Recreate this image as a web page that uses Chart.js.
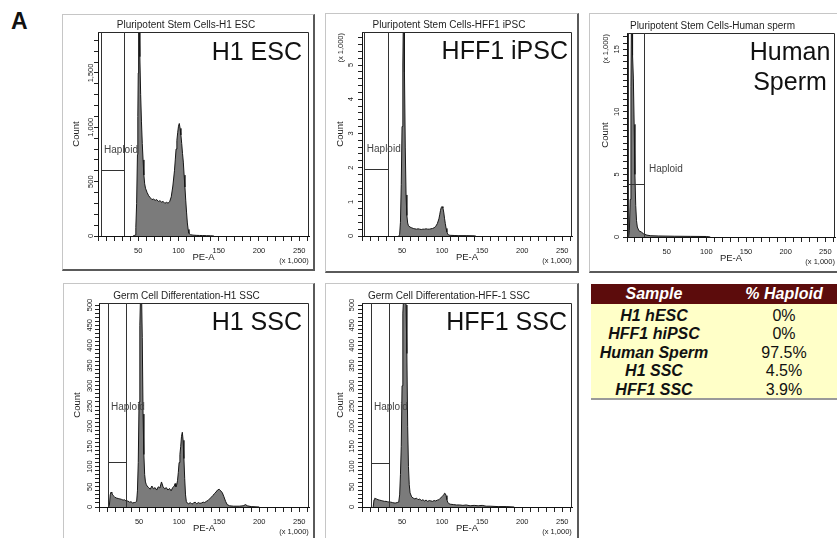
<!DOCTYPE html>
<html>
<head>
<meta charset="utf-8">
<script src="https://cdn.jsdelivr.net/npm/chart.js@4.4.1/dist/chart.umd.min.js"></script>
<style>
html, body { margin:0; padding:0; background:#fff; }
body { width:837px; height:538px; overflow:hidden; position:relative; font-family:'Liberation Sans', Arial, Helvetica, sans-serif; }
.frame { position:absolute; box-sizing:border-box; border-top:1px solid #c6c6c6; border-left:1px solid #c6c6c6; border-right:2px solid #5a5a5a; border-bottom:2px solid #5a5a5a; background:#fff; }
.frame canvas { position:absolute; left:0; top:0; }
#letter { position:absolute; left:11px; top:10px; font-weight:bold; font-size:23px; line-height:23px; color:#111; }
#tbl { position:absolute; left:591px; top:284px; width:262px; font-size:16px; }
#tbl .th { height:20px; background:#5c0c0c; color:#fff; font-weight:bold; font-style:italic; display:flex; align-items:center; }
#tbl .tb { background:#ffffc8; padding-top:2.5px; height:91.5px; border-bottom:2px solid #9a9a9a; }
#tbl .tr { height:18.5px; line-height:18.5px; display:flex; color:#111; }
#tbl .c1 { width:126px; text-align:center; white-space:nowrap; }
#tbl .c2 { width:134px; text-align:center; white-space:nowrap; }
#tbl .tr .c1 { font-weight:bold; font-style:italic; }
</style>
</head>
<body>
<div id="letter">A</div>
<div id="tbl"></div>
<script>
const FONT = "'Liberation Sans', Arial, Helvetica, sans-serif";

// ---------- DATA (x in PE-A x1,000; counts as on each axis) ----------
const xTickLabelEvery = 50;

// H1 ESC (counts)
const escX = [43.5,45,46,47,48,49,49.5,50,50.5,51.3,52,53,54,55,56,57,58,59,61,63,65,67,69,71,73,75,77,79,81,83,85,87,89,91,93,95,96,97,98,99,100,101,102,103,104,105,106,107,108,109,110,111,112,113,115,118,122,126,130,135,140,144];
const escY = [0,3,10,80,300,750,1100,1500,1900,1900,1650,1300,1050,850,700,560,480,440,400,370,352,335,340,328,335,318,325,312,318,300,310,302,315,360,460,600,700,800,880,950,1010,1035,990,930,850,760,680,560,450,330,220,120,60,25,12,8,6,5,4,3,2,0];
const escGate = [3.7, 32.7, 607];
const escGateLabel = [7.5, 790];

// HFF1 iPSC (counts x1,000)
const ipsX = [46,47,48,49,50,51,51.5,52.5,53,54,55,56,57,58,60,62,64,66,68,70,72,74,76,78,80,82,84,86,88,90,92,94,96,97,98,99,100,101,102,103,104,105,106,107,108,110,115,120,130,140,142];
const ipsY = [0,0.05,0.4,1.5,3.2,5.0,6.1,6.1,4.8,2.6,1.2,0.6,0.38,0.3,0.26,0.24,0.22,0.21,0.2,0.21,0.2,0.19,0.2,0.2,0.21,0.2,0.2,0.21,0.22,0.24,0.28,0.36,0.5,0.62,0.75,0.84,0.86,0.82,0.7,0.52,0.36,0.22,0.12,0.06,0.03,0.02,0.015,0.01,0.01,0.005,0];
const ipsGate = [2.9, 32, 1.95];
const ipsGateLabel = [6, 2.53];

// Human sperm (counts x1,000)
const spX = [2,3,4,5,5.5,6.5,7,8,9,10,11,12,13,15,18,21,25,30,40,60,80,100,105];
const spY = [0,0.5,3,12,16.5,16.5,14.5,12.7,9,5,2.5,1.3,0.8,0.5,0.4,0.25,0.15,0.1,0.08,0.06,0.05,0.04,0];
const spGate = [1.6, 21.8, 4.2];
const spGateLabel = [27.7, 5.4];

// H1 SSC (counts)
const h1sX = [12,13,14,15,16,17,18,19,20,22,24,26,28,30,32,34,36,38,40,42,44,46,47,48,49,50,51,52,53,54,55,56,57,58,59,60,62,64,66,68,70,72,74,76,78,80,82,84,86,88,90,92,94,95,96,97,98,99,100,101,102,103,104,105,106,107,108,109,110,112,114,116,118,120,122,124,126,128,130,132,134,136,138,140,142,144,146,148,150,152,154,156,158,160,163,168,175,180,183,185,190,200];
const h1sY = [0,5,30,37,35,30,28,26,24,22,21,20,19,17,18,14,15,12,13,10,11,12,14,40,110,260,450,540,540,420,230,130,80,62,56,52,48,44,52,45,48,42,50,47,62,50,45,48,42,46,40,48,52,58,50,55,65,85,110,130,150,175,185,165,120,70,30,14,10,8,11,7,10,12,8,11,9,10,12,11,14,16,20,24,28,33,37,42,44,40,35,25,14,6,3,2,2,3,6,3,1,0];
const h1sGate = [11.6, 33.3, 111];
const h1sGateLabel = [15, 248];

// HFF1 SSC (counts)
const hffX = [14,15,16,17,18,20,22,24,26,28,30,32,34,36,38,40,42,44,45,46,47,48,49,50,51,52,53,54,55,56,57,58,59,60,62,64,66,68,70,72,74,76,78,80,82,84,86,88,90,92,94,96,98,100,102,103,104,105,106,107,108,110,114,118,122,126,130,135,140,145,150,155,160,170,180,190];
const hffY = [0,18,22,21,20,18,17,16,15,14,14,13,12,12,11,10,10,11,12,15,30,80,150,300,480,520,540,530,500,380,200,100,55,35,25,22,20,22,18,20,16,18,15,17,14,16,15,14,16,15,17,18,22,26,30,34,33,28,18,12,9,7,6,5,5,4,5,3,4,3,4,2,2,1,1,0];
const hffGate = [11.2, 33.7, 108.5];
const hffGateLabel = [15, 247];

// Table
const tableHeader = ['Sample', '% Haploid'];
const tableSamples = ['H1 hESC', 'HFF1 hiPSC', 'Human Sperm', 'H1 SSC', 'HFF1 SSC'];
const tableHaploid = ['0%', '0%', '97.5%', '4.5%', '3.9%'];

// ---------- LAYOUT ----------
const panels = [
  { id:'p1', cl:63, ct:15, cw:250, ch:254, L:98, T:32, R:309, B:236,
    title:'Pluripotent Stem Cells-H1 ESC', big:['H1 ESC'], bigAlign:'right', bigInset:7, bigBase:28,
    xs:escX, ys:escY, yMax:1877, yStep:100, yLabelEvery:500, yUnit:false, gate:escGate, gateLabel:escGateLabel, labelGap:7 },
  { id:'p2', cl:326, ct:14, cw:251, ch:257, L:362, T:32, R:572, B:236,
    title:'Pluripotent Stem Cells-HFF1 iPSC', big:['HFF1 iPSC'], bigAlign:'right', bigInset:4, bigBase:27,
    xs:ipsX, ys:ipsY, yMax:5.965, yStep:0.2, yLabelEvery:1, yUnit:true, gate:ipsGate, gateLabel:ipsGateLabel, labelGap:11 },
  { id:'p3', cl:590, ct:14, cw:255, ch:257, L:627, T:33, R:835, B:237,
    title:'Pluripotent Stem Cells-Human sperm', big:['Human','Sperm'], bigAlign:'center', bigInset:45, bigBase:27,
    xs:spX, ys:spY, yMax:16.3, yStep:0.5, yLabelEvery:5, yUnit:true, gate:spGate, gateLabel:spGateLabel, labelGap:10 },
  { id:'p4', cl:64, ct:284, cw:249, ch:259, L:99, T:303, R:309, B:507,
    title:'Germ Cell Differentation-H1 SSC', big:['H1 SSC'], bigAlign:'right', bigInset:7, bigBase:27,
    xs:h1sX, ys:h1sY, yMax:505, yStep:10, yLabelEvery:50, yUnit:false, gate:h1sGate, gateLabel:h1sGateLabel, labelGap:9 },
  { id:'p5', cl:326, ct:284, cw:251, ch:259, L:362, T:303, R:572, B:507,
    title:'Germ Cell Differentation-HFF-1 SSC', big:['HFF1 SSC'], bigAlign:'right', bigInset:5, bigBase:27,
    xs:hffX, ys:hffY, yMax:505, yStep:10, yLabelEvery:50, yUnit:false, gate:hffGate, gateLabel:hffGateLabel, labelGap:10 }
];

Chart.defaults.font.family = FONT;
const TICK_SIZE = 7.5;
const measureCtx = document.createElement('canvas').getContext('2d');

function isMultiple(v, step) {
  const r = v / step;
  return Math.abs(r - Math.round(r)) < 1e-6;
}

function decorPlugin(p) {
  return {
    id: 'decor_' + p.id,
    afterDraw(chart) {
      const { ctx, chartArea: a } = chart;
      const xs = chart.scales.x, ys = chart.scales.y;
      const px = v => Math.round(xs.getPixelForValue(v)) + 0.5;
      const py = v => Math.round(ys.getPixelForValue(v)) + 0.5;
      ctx.save();
      ctx.strokeStyle = '#2a2a2a';
      ctx.lineWidth = 1;
      const top = Math.round(a.top) + 0.5, right = Math.round(a.right) - 0.5;
      ctx.beginPath();
      ctx.moveTo(a.left, top); ctx.lineTo(right, top); ctx.lineTo(right, a.bottom);
      ctx.stroke();
      // Haploid gate
      const [lo, hi, level] = p.gate;
      ctx.strokeStyle = '#333';
      ctx.beginPath();
      ctx.moveTo(px(lo), a.top); ctx.lineTo(px(lo), a.bottom);
      ctx.moveTo(px(hi), a.top); ctx.lineTo(px(hi), a.bottom);
      ctx.moveTo(px(lo), py(level)); ctx.lineTo(px(hi), py(level));
      ctx.stroke();
      ctx.fillStyle = '#444';
      ctx.font = '10px ' + FONT;
      ctx.textAlign = 'left';
      ctx.textBaseline = 'middle';
      ctx.fillText('Haploid', xs.getPixelForValue(p.gateLabel[0]), ys.getPixelForValue(p.gateLabel[1]));
      // big sample label
      ctx.fillStyle = '#111';
      ctx.font = '25px ' + FONT;
      ctx.textBaseline = 'alphabetic';
      ctx.textAlign = p.bigAlign;
      p.big.forEach((s, i) => ctx.fillText(s, a.right - p.bigInset, a.top + p.bigBase + i * 30));
      // y unit
      if (p.yUnit) {
        ctx.save();
        ctx.translate(a.left - 21.5, a.top + 1);
        ctx.rotate(-Math.PI / 2);
        ctx.textAlign = 'right';
        ctx.textBaseline = 'middle';
        ctx.font = TICK_SIZE + 'px ' + FONT;
        ctx.fillStyle = '#222';
        ctx.fillText('(x 1,000)', 0, 0);
        ctx.restore();
      }
      ctx.restore();
    }
  };
}

function makePanel(p) {
  const frame = document.createElement('div');
  frame.className = 'frame';
  frame.style.left = (p.cl - 1) + 'px';
  frame.style.top = (p.ct - 1) + 'px';
  frame.style.width = (p.cw + 3) + 'px';
  frame.style.height = (p.ch + 3) + 'px';
  const cv = document.createElement('canvas');
  cv.width = p.cw; cv.height = p.ch;
  cv.style.width = p.cw + 'px'; cv.style.height = p.ch + 'px';
  frame.appendChild(cv);
  document.body.appendChild(frame);

  const titleSize = 10, tlh = titleSize * 1.2;
  const titlePadTop = (p.T - 6.5) - p.ct - tlh / 2;
  const titlePadBottom = (p.T - p.ct) - tlh - titlePadTop;
  const yW = p.L - p.cl;
  const xH = p.ct + p.ch - p.B;
  const padR = p.cl + p.cw - p.R;
  const axSize = 9.5, alh = axSize * 1.2;
  const countPadTop = (p.L - 21.5) - p.cl - alh / 2;
  const peaPadBottom = (p.ct + p.ch) - (p.B + 21.5) - alh / 2;

  const yLabel = v => isMultiple(v, p.yLabelEvery) ? Math.round(v).toLocaleString('en-US') : '';
  measureCtx.font = TICK_SIZE + 'px ' + FONT;
  let widest = 0;
  for (let v = 0; v <= p.yMax + 1e-9; v += p.yLabelEvery) {
    widest = Math.max(widest, measureCtx.measureText(yLabel(v)).width);
  }
  const yTickLen = 4;
  const yPad = p.labelGap - yTickLen - widest / 2;

  const points = p.xs.map((x, i) => ({ x: x, y: p.ys[i] }));

  new Chart(cv, {
    type: 'line',
    data: { datasets: [{ data: points, fill: 'origin', backgroundColor: '#7b7b7b', borderColor: '#161616', borderWidth: 1, pointRadius: 0, tension: 0 }] },
    options: {
      responsive: false, animation: false, devicePixelRatio: 1,
      events: [],
      layout: { padding: { left: 0, top: 0, right: padR, bottom: 0 } },
      plugins: {
        legend: { display: false },
        tooltip: { enabled: false },
        title: { display: true, text: p.title, color: '#1e1e1e', font: { size: titleSize, weight: 'normal', lineHeight: 1.2 }, padding: { top: titlePadTop, bottom: titlePadBottom } }
      },
      scales: {
        x: {
          type: 'linear', min: 0, max: 262.144,
          afterFit: s => { s.height = xH; },
          ticks: {
            stepSize: 10, includeBounds: false, autoSkip: false, minRotation: 0, maxRotation: 0,
            color: '#1a1a1a', font: { size: TICK_SIZE, lineHeight: 1.45 }, padding: 4,
            callback: v => {
              const r = Math.round(v);
              if (r > 0 && isMultiple(r, xTickLabelEvery)) return r === 250 ? ['250', '(x 1,000)     '] : String(r);
              return '';
            }
          },
          grid: { drawOnChartArea: false, drawTicks: true, tickLength: 5, color: '#222' },
          border: { display: true, color: '#111', width: 1 },
          title: { display: true, text: 'PE-A', color: '#222', font: { size: axSize, lineHeight: 1.2 }, padding: { top: 0, bottom: peaPadBottom } }
        },
        y: {
          type: 'linear', min: 0, max: p.yMax,
          afterFit: s => { s.width = yW; },
          ticks: {
            stepSize: p.yStep, includeBounds: false, autoSkip: false, minRotation: 90, maxRotation: 90,
            crossAlign: 'center', padding: yPad,
            color: '#1a1a1a', font: { size: TICK_SIZE, lineHeight: 1.2 },
            callback: yLabel
          },
          grid: { drawOnChartArea: false, drawTicks: true, tickLength: yTickLen, color: '#222' },
          border: { display: true, color: '#111', width: 1 },
          title: { display: true, text: 'Count', color: '#222', font: { size: axSize, lineHeight: 1.2 }, padding: { top: countPadTop, bottom: 0 } }
        }
      }
    },
    plugins: [decorPlugin(p)]
  });
}

panels.forEach(makePanel);

// table
const tbl = document.getElementById('tbl');
const th = document.createElement('div');
th.className = 'th';
th.innerHTML = '<span class="c1"></span><span class="c2"></span>';
th.children[0].textContent = tableHeader[0];
th.children[1].textContent = tableHeader[1];
tbl.appendChild(th);
const tb = document.createElement('div');
tb.className = 'tb';
tableSamples.forEach((s, i) => {
  const tr = document.createElement('div');
  tr.className = 'tr';
  const a = document.createElement('span'); a.className = 'c1'; a.textContent = s;
  const b = document.createElement('span'); b.className = 'c2'; b.textContent = tableHaploid[i];
  tr.appendChild(a); tr.appendChild(b);
  tb.appendChild(tr);
});
tbl.appendChild(tb);
</script>
</body>
</html>
